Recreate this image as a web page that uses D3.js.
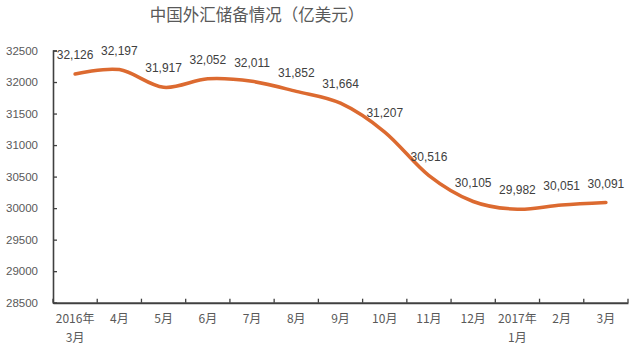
<!DOCTYPE html>
<html><head><meta charset="utf-8">
<script src="https://cdn.jsdelivr.net/npm/d3@7"></script>
<style>
html,body{margin:0;padding:0;background:#fff;}
svg{display:block;}
</style>
</head><body>
<svg id="c" width="640" height="358"></svg>
<script>
const title = "中国外汇储备情况（亿美元）";
const categories = ["2016年\n3月","4月","5月","6月","7月","8月","9月","10月","11月","12月","2017年\n1月","2月","3月"];
const values = [32126, 32197, 31917, 32052, 32011, 31852, 31664, 31207, 30516, 30105, 29982, 30051, 30091];
const yTicks = [28500, 29000, 29500, 30000, 30500, 31000, 31500, 32000, 32500];

(function(){
const svg = d3.select("#c");
const mLeft = 53, mRight = 628, mTop = 50.5, mBottom = 302.7;
const font = "'Liberation Sans','DejaVu Sans','Noto Sans CJK SC',sans-serif";
const cjk = "'Noto Sans CJK SC','Liberation Sans',sans-serif";

const x = d3.scaleBand().domain(categories).range([mLeft, mRight]).padding(0);
const y = d3.scaleLinear().domain([28500, 32500]).range([mBottom, mTop]);

svg.append("text").attr("x", 257).attr("y", 17).attr("text-anchor","middle")
  .attr("dominant-baseline","middle").attr("font-family", cjk).attr("font-size", 16.5)
  .attr("fill", "#595959").text(title);

// y axis
const ya = svg.append("g").attr("transform", `translate(${mLeft},0)`)
  .call(d3.axisLeft(y).tickValues(yTicks).tickSizeInner(-4).tickSizeOuter(-4).tickPadding(15).tickFormat(d3.format("d")));
ya.select(".domain").attr("stroke","#404040").attr("stroke-width",1.6);
ya.selectAll(".tick line").attr("stroke","#404040").attr("stroke-width",1.3);
ya.selectAll(".tick text").attr("font-family", font).attr("font-size", 11.5).attr("fill","#595959");

// x axis
const xa = svg.append("g").attr("transform", `translate(0,${mBottom})`)
  .call(d3.axisBottom(x).tickSize(0).tickFormat(""));
xa.select(".domain").attr("stroke","#404040").attr("stroke-width",2);
const bounds = d3.range(categories.length + 1).map(i => mLeft + i * x.bandwidth());
xa.selectAll(".bt").data(bounds).enter().append("line").attr("class","bt")
  .attr("x1", d => d).attr("x2", d => d).attr("y1", 0).attr("y2", -4)
  .attr("stroke","#404040").attr("stroke-width",1.3);
categories.forEach(c => {
  const lines = c.split("\n");
  const t = svg.append("text").attr("text-anchor","middle").attr("font-family", cjk)
    .attr("font-size", 12).attr("fill","#595959");
  lines.forEach((ln, i) => {
    t.append("tspan").attr("x", x(c) + x.bandwidth()/2).attr("y", 320 + i * 19)
      .attr("dominant-baseline","middle").text(ln);
  });
});

// line
const pts = values.map((v, i) => [x(categories[i]) + x.bandwidth()/2, y(v)]);
svg.append("path").datum(pts)
  .attr("d", d3.line().curve(d3.curveCatmullRom.alpha(0)))
  .attr("fill","none").attr("stroke","#DC6a30").attr("stroke-width",3.5).attr("stroke-linecap","round");

// labels
const fmt = d3.format(",");
svg.selectAll(".lab").data(values).enter().append("text")
  .attr("x", (d, i) => pts[i][0]).attr("y", (d, i) => pts[i][1] - 18)
  .attr("text-anchor","middle").attr("dominant-baseline","middle")
  .attr("font-family", font).attr("font-size", 12).attr("fill","#404040")
  .text(d => fmt(d));
})();
</script>
</body></html>
